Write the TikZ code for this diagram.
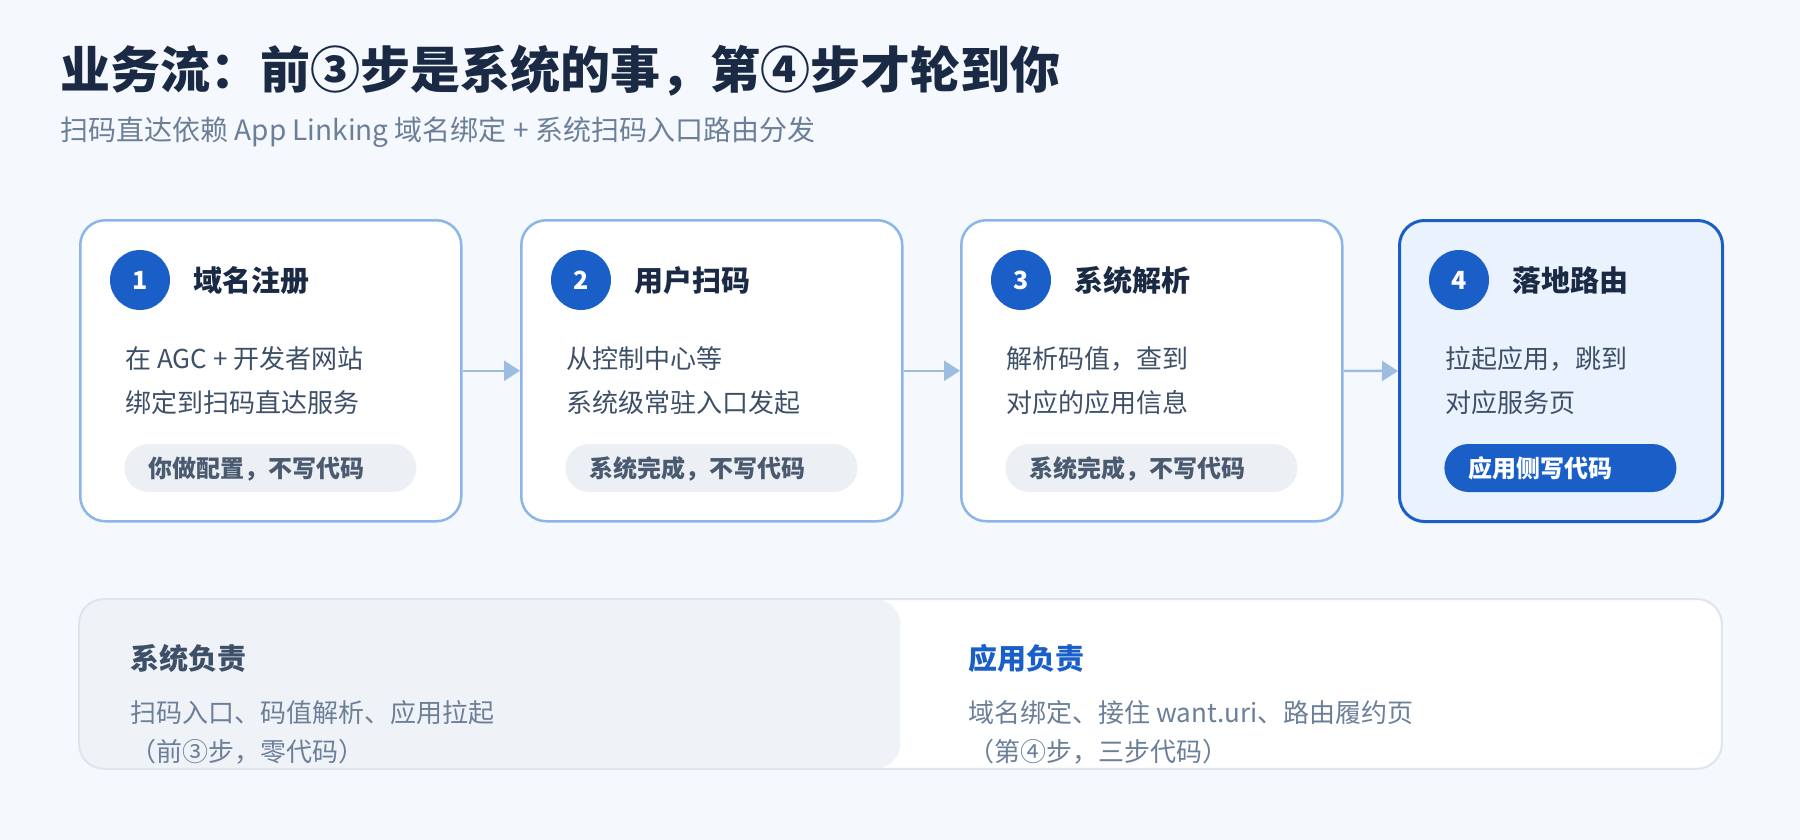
\documentclass[tikz,border=0pt]{standalone}
\usepackage{fontspec}
\setmainfont{Noto Sans CJK SC}
\usetikzlibrary{arrows.meta}

\definecolor{pagebg}{HTML}{F5F8FC}
\definecolor{navy}{HTML}{1B2A44}
\definecolor{subgray}{HTML}{6B7F99}
\definecolor{bodygray}{HTML}{3D5068}
\definecolor{taggray}{HTML}{4A5A70}
\definecolor{tagfill}{HTML}{ECEFF3}
\definecolor{hmblue}{HTML}{1A5FC8}
\definecolor{cardline}{HTML}{8CB6EA}
\definecolor{flowline}{HTML}{9DBDE0}
\definecolor{lastfill}{HTML}{EAF2FE}
\definecolor{sysfill}{HTML}{EFF3F8}
\definecolor{panelline}{HTML}{DDE5EF}

\begin{document}
\begin{tikzpicture}[x=0.5pt, y=-0.5pt,
  card/.style = {draw=cardline, line width=1.25pt, fill=white, rounded corners=12.5pt,
                 minimum width=190.5pt, minimum height=150.5pt, anchor=north west, inner sep=0pt},
  lastcard/.style = {card, draw=hmblue, line width=1.5pt, fill=lastfill, minimum width=161.5pt},
  badge/.style = {circle, fill=hmblue, text=white, minimum size=30pt, inner sep=0pt,
                  font=\fontsize{12.5pt}{14pt}\selectfont\bfseries},
  steptitle/.style = {anchor=west, inner sep=0pt, text=navy, text height=12.76pt, text depth=1.74pt,
                      font=\fontsize{14.5pt}{17pt}\selectfont\bfseries},
  body/.style = {anchor=west, inner sep=0pt, text=bodygray, text height=11.44pt, text depth=1.56pt,
                 font=\fontsize{13pt}{15pt}\selectfont},
  tag/.style = {anchor=west, fill=tagfill, text=taggray, rounded corners=12pt, inner xsep=12pt,
                inner ysep=0pt, minimum height=24pt, text width=122pt, align=left,
                text height=10.56pt, text depth=1.44pt, font=\fontsize{12pt}{14pt}\selectfont\bfseries},
  codetag/.style = {tag, fill=hmblue, text=white, text width=92pt},
  flow/.style = {draw=flowline, line width=1.25pt, -{Triangle[length=8pt, width=10pt]}},
  note/.style = {anchor=west, inner sep=0pt, text=subgray, text height=11.44pt, text depth=1.56pt,
                 font=\fontsize{13pt}{15pt}\selectfont},
  notehead/.style = {anchor=west, inner sep=0pt, text=bodygray, text height=12.76pt, text depth=1.74pt,
                     font=\fontsize{14.5pt}{17pt}\selectfont\bfseries}]

  \fill[pagebg] (0,0) rectangle (1800,840);
  \useasboundingbox (0,0) rectangle (1800,840);

  % heading
  \node[anchor=west, inner sep=0pt, text=navy, text height=22pt, text depth=3pt,
        font=\fontsize{25pt}{28pt}\selectfont\bfseries] (head) at (60,70)
        {业务流：前③步是系统的事，第④步才轮到你};
  \node[anchor=west, inner sep=0pt, text=subgray, text height=12.32pt, text depth=1.68pt,
        font=\fontsize{14pt}{16pt}\selectfont] (subhead) at (60,130)
        {扫码直达依赖 App Linking 域名绑定 + 系统扫码入口路由分发};

  % step cards
  \node[card] (c1) at (79,219) {};
  \node[card] (c2) at (520,219) {};
  \node[card] (c3) at (960,219) {};
  \node[lastcard] (c4) at (1398,219) {};

  \draw[flow] (c1.east) -- (c2.west);
  \draw[flow] (c2.east) -- (c3.west);
  \draw[flow] (c3.east) -- (c4.west);

  % step 1
  \node[badge] (b1) at (140,280) {1};
  \node[steptitle] (t1) at (193,280) {域名注册};
  \node[body] (d1a) at (125,359) {在 AGC + 开发者网站};
  \node[body] (d1b) at (125,403) {绑定到扫码直达服务};
  \node[tag] (g1) at (124,468) {你做配置，不写代码};

  % step 2
  \node[badge] (b2) at (581,280) {2};
  \node[steptitle] (t2) at (634,280) {用户扫码};
  \node[body] (d2a) at (566,359) {从控制中心等};
  \node[body] (d2b) at (566,403) {系统级常驻入口发起};
  \node[tag] (g2) at (565,468) {系统完成，不写代码};

  % step 3
  \node[badge] (b3) at (1021,280) {3};
  \node[steptitle] (t3) at (1074,280) {系统解析};
  \node[body] (d3a) at (1006,359) {解析码值，查到};
  \node[body] (d3b) at (1006,403) {对应的应用信息};
  \node[tag] (g3) at (1005,468) {系统完成，不写代码};

  % step 4
  \node[badge] (b4) at (1459,280) {4};
  \node[steptitle] (t4) at (1512,280) {落地路由};
  \node[body] (d4a) at (1445,359) {拉起应用，跳到};
  \node[body] (d4b) at (1445,403) {对应服务页};
  \node[codetag] (g4) at (1444,468) {应用侧写代码};

  % who does what
  \node[fill=white, rounded corners=12.5pt, minimum width=821pt, minimum height=84.5pt,
        anchor=north west, inner sep=0pt] (panel) at (79,599) {};
  \node[fill=sysfill, rounded corners=12.5pt, minimum width=410.5pt, minimum height=84.5pt,
        anchor=north west, inner sep=0pt] (syspart) at (79,599) {};
  \draw[panelline, line width=1pt, rounded corners=12.5pt] (panel.north west) rectangle (panel.south east);

  \node[notehead] (sysh) at (130,658) {系统负责};
  \node[note] (sys1) at (130,713) {扫码入口、码值解析、应用拉起};
  \node[note] (sys2) at (130,752) {（前③步，零代码）};

  \node[notehead, text=hmblue] (apph) at (968,658) {应用负责};
  \node[note] (app1) at (968,713) {域名绑定、接住 want.uri、路由履约页};
  \node[note] (app2) at (968,752) {（第④步，三步代码）};
\end{tikzpicture}
\end{document}
